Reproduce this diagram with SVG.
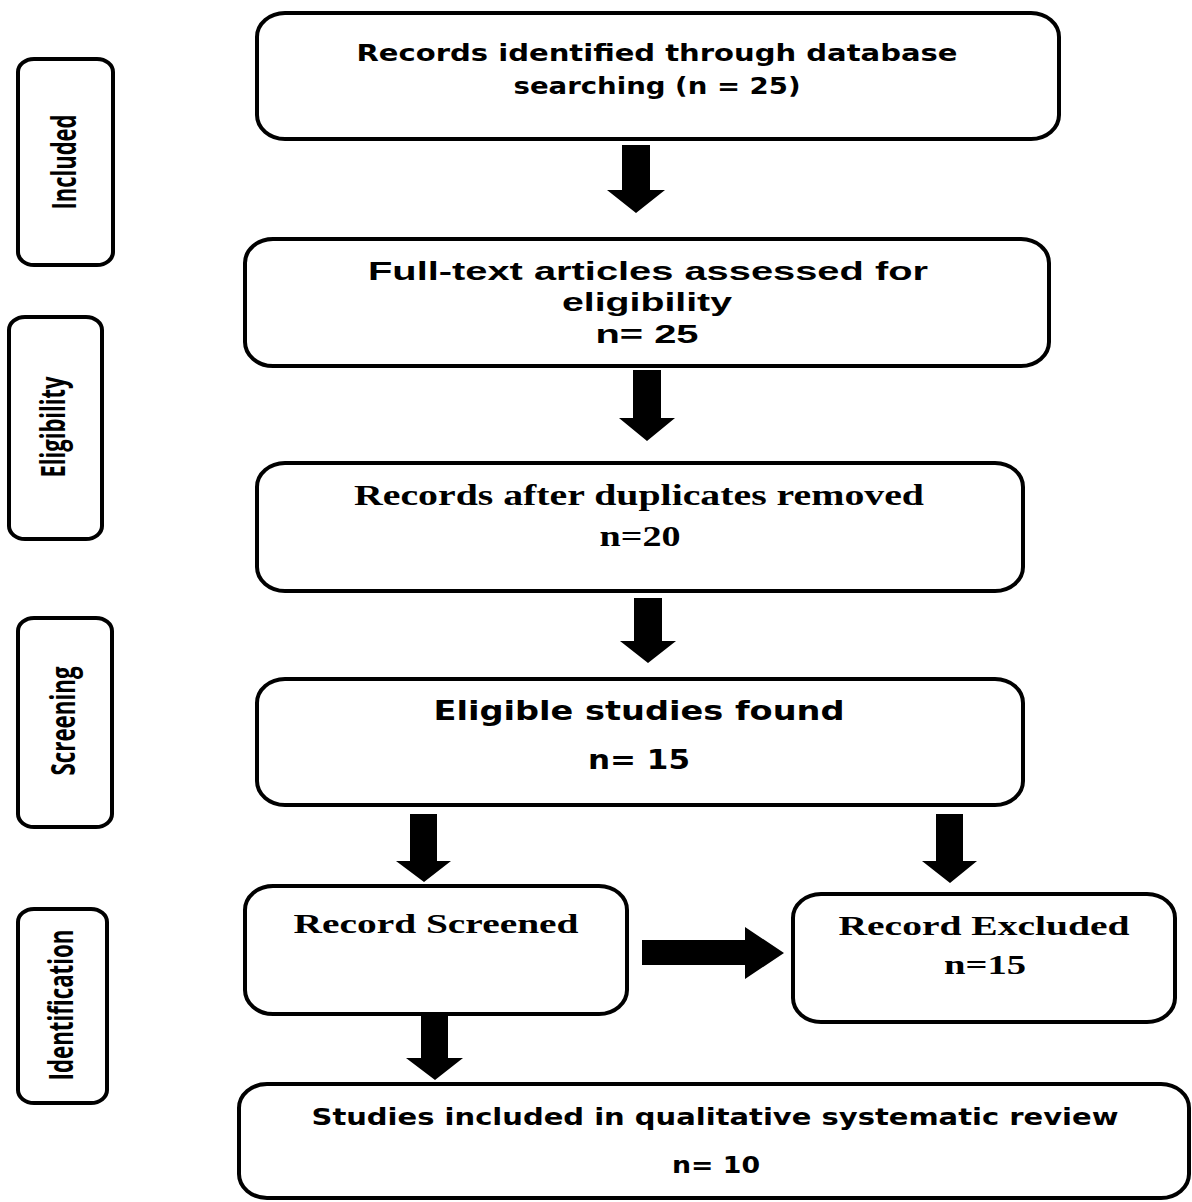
<svg xmlns="http://www.w3.org/2000/svg" width="1192" height="1202" viewBox="0 0 1192 1202">
<style>
  .box { fill: #ffffff; stroke: #000000; stroke-width: 4; }
  .arr { fill: #000000; stroke: none; }
  .sans { font-family: "DejaVu Sans", Verdana, sans-serif; font-weight: bold; fill: #000; }
  .arial { font-family: "Liberation Sans", Arial, sans-serif; font-weight: bold; fill: #000; }
  .serif { font-family: "Liberation Serif", "Times New Roman", serif; font-weight: bold; fill: #000; }
  .side { font-family: "Open Sans", "Noto Sans", sans-serif; font-weight: bold; fill: #000; }
</style>
<rect width="1192" height="1202" fill="#ffffff"/>

<g id="stage-included">
  <rect class="box" x="18" y="59" width="95" height="206" rx="16" ry="13"/>
  <text class="side" font-size="34" text-anchor="middle" transform="translate(76,162) rotate(-90)" textLength="95" lengthAdjust="spacingAndGlyphs">Included</text>
</g>
<g id="stage-eligibility">
  <rect class="box" x="9" y="317" width="93" height="222" rx="16" ry="13"/>
  <text class="side" font-size="34" text-anchor="middle" transform="translate(65,427) rotate(-90)" textLength="101" lengthAdjust="spacingAndGlyphs">Eligibility</text>
</g>
<g id="stage-screening">
  <rect class="box" x="18" y="618" width="94" height="209" rx="16" ry="13"/>
  <text class="side" font-size="34" text-anchor="middle" transform="translate(75,721) rotate(-90)" textLength="109" lengthAdjust="spacingAndGlyphs">Screening</text>
</g>
<g id="stage-identification">
  <rect class="box" x="18" y="909" width="89" height="194" rx="16" ry="13"/>
  <text class="side" font-size="34" text-anchor="middle" transform="translate(73,1005) rotate(-90)" textLength="151" lengthAdjust="spacingAndGlyphs">Identification</text>
</g>

<g id="node-identified">
  <rect class="box" x="257" y="13" width="802" height="126" rx="28" ry="24"/>
  <text class="sans" font-size="23" x="657" y="61" text-anchor="middle" textLength="601" lengthAdjust="spacingAndGlyphs">Records identified through database</text>
  <text class="sans" font-size="23" x="657" y="94" text-anchor="middle" textLength="287" lengthAdjust="spacingAndGlyphs">searching (n = 25)</text>
</g>
<g id="node-fulltext">
  <rect class="box" x="245" y="239" width="804" height="127" rx="28" ry="24"/>
  <text class="arial" font-size="26" x="648" y="280" text-anchor="middle" textLength="560" lengthAdjust="spacingAndGlyphs">Full-text articles assessed for</text>
  <text class="arial" font-size="26" x="647" y="311" text-anchor="middle" textLength="170" lengthAdjust="spacingAndGlyphs">eligibility</text>
  <text class="arial" font-size="26" x="647" y="343" text-anchor="middle" textLength="103" lengthAdjust="spacingAndGlyphs">n= 25</text>
</g>
<g id="node-duplicates">
  <rect class="box" x="257" y="463" width="766" height="128" rx="28" ry="24"/>
  <text class="serif" font-size="29" x="639" y="505" text-anchor="middle" textLength="570" lengthAdjust="spacingAndGlyphs">Records after duplicates removed</text>
  <text class="serif" font-size="29" x="640" y="546" text-anchor="middle" textLength="81" lengthAdjust="spacingAndGlyphs">n=20</text>
</g>
<g id="node-eligible">
  <rect class="box" x="257" y="679" width="766" height="126" rx="28" ry="24"/>
  <text class="sans" font-size="27" x="639" y="720" text-anchor="middle" textLength="411" lengthAdjust="spacingAndGlyphs">Eligible studies found</text>
  <text class="sans" font-size="27" x="639" y="769" text-anchor="middle" textLength="102" lengthAdjust="spacingAndGlyphs">n= 15</text>
</g>
<g id="node-screened">
  <rect class="box" x="245" y="886" width="382" height="128" rx="28" ry="24"/>
  <text class="serif" font-size="27" x="436" y="933" text-anchor="middle" textLength="285" lengthAdjust="spacingAndGlyphs">Record Screened</text>
</g>
<g id="node-excluded">
  <rect class="box" x="793" y="894" width="382" height="128" rx="28" ry="24"/>
  <text class="serif" font-size="27" x="984" y="935" text-anchor="middle" textLength="291" lengthAdjust="spacingAndGlyphs">Record Excluded</text>
  <text class="serif" font-size="27" x="985" y="974" text-anchor="middle" textLength="82" lengthAdjust="spacingAndGlyphs">n=15</text>
</g>
<g id="node-included">
  <rect class="box" x="239" y="1084" width="950" height="114" rx="28" ry="24"/>
  <text class="sans" font-size="23" x="715" y="1125" text-anchor="middle" textLength="807" lengthAdjust="spacingAndGlyphs">Studies included in qualitative systematic review</text>
  <text class="sans" font-size="23" x="716" y="1173" text-anchor="middle" textLength="88" lengthAdjust="spacingAndGlyphs">n= 10</text>
</g>

<g id="connectors">
  <polygon class="arr" points="622,145 650,145 650,190 665,190 636,213 607,190 622,190"/>
  <polygon class="arr" points="633,370 661,370 661,418 675,418 647,441 619,418 633,418"/>
  <polygon class="arr" points="634,598 662,598 662,641 676,641 648,663 620,641 634,641"/>
  <polygon class="arr" points="410,814 437,814 437,861 451,861 424,882 396,861 410,861"/>
  <polygon class="arr" points="936,814 963,814 963,861 977,861 950,883 922,861 936,861"/>
  <polygon class="arr" points="642,940 745,940 745,927 784,953 745,979 745,965 642,965"/>
  <polygon class="arr" points="421,1012 448,1012 448,1058 463,1058 435,1080 406,1058 421,1058"/>
</g>
</svg>
